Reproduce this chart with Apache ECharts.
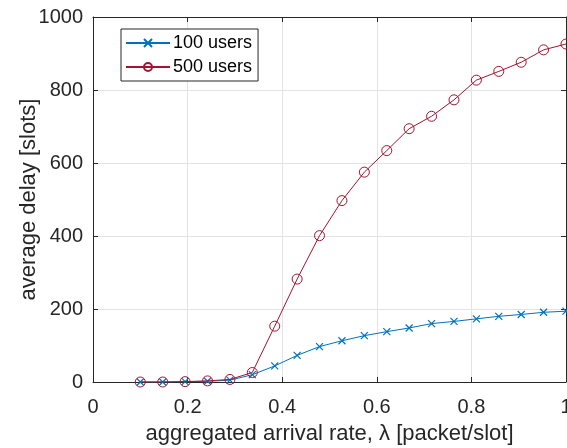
<!DOCTYPE html>
<html>
<head>
<meta charset="utf-8">
<script src="https://cdn.jsdelivr.net/npm/echarts@6/dist/echarts.min.js"></script>
<style>html,body{margin:0;padding:0;background:#fff;}#c{width:567px;height:448px;}</style>
</head>
<body>
<div id="c"></div>
<script>
const lambda = [0.1, 0.1474, 0.1947, 0.2421, 0.2895, 0.3368, 0.3842, 0.4316, 0.4789, 0.5263,
                0.5737, 0.6211, 0.6684, 0.7158, 0.7632, 0.8105, 0.8579, 0.9053, 0.9526, 1.0];
const users100 = [0, 0, 1, 2, 5, 20, 44, 73, 97, 113, 127, 138, 148, 160, 166, 173, 180, 185, 191, 194];
const users500 = [0, 0, 1, 3, 7, 26, 153, 282, 401, 497, 575, 634, 694, 728, 773, 827, 851, 876, 910, 926];
const seriesNames = ['100 users', '500 users'];
const xTicks = [0, 0.2, 0.4, 0.6, 0.8, 1];
const yTicks = [0, 200, 400, 600, 800, 1000];

const FONT = 'Liberation Sans, Arial, sans-serif';
const AX = '#262626';
const pair = (xs, ys) => xs.map((x, i) => [x, ys[i]]);

const chart = echarts.init(document.getElementById('c'), null, {renderer: 'canvas'});
const axisCommon = {
  axisLine: {show: true, onZero: false, lineStyle: {color: AX, width: 1}},
  axisTick: {show: true, inside: true, length: 5, lineStyle: {color: AX}},
};
chart.setOption({
  animation: false,
  backgroundColor: '#fff',
  grid: {left: 93, right: 1, top: 17, bottom: 66, containLabel: false, outerBoundsMode: 'none'},
  legend: {
    orient: 'vertical', left: 121, top: 29,
    data: seriesNames,
    itemWidth: 44, itemHeight: 10, itemGap: 6,
    padding: [5, 6, 5, 4],
    borderColor: AX, borderWidth: 1, backgroundColor: '#fff',
    textStyle: {fontFamily: FONT, fontSize: 18, color: '#000', padding: [0, 0, 0, -2]}
  },
  xAxis: [{
    type: 'value', min: 0, max: 1, interval: 0.2, position: 'bottom',
    ...axisCommon,
    axisLabel: {fontFamily: FONT, fontSize: 20, color: AX, margin: 15,
      formatter: v => xTicks.includes(+v.toFixed(1)) ? String(+v.toFixed(1)) : ''},
    splitLine: {show: true, lineStyle: {color: '#e3e3e3', width: 1}},
    name: 'aggregated arrival rate, λ [packet/slot]', nameLocation: 'middle', nameGap: 41,
    nameMoveOverlap: false,
    nameTextStyle: {fontFamily: FONT, fontSize: 22, color: AX}
  }, {
    type: 'value', min: 0, max: 1, interval: 0.2, position: 'top',
    ...axisCommon, axisLabel: {show: false}, splitLine: {show: false}
  }],
  yAxis: [{
    type: 'value', min: 0, max: 1000, interval: 200, position: 'left',
    ...axisCommon,
    axisLabel: {fontFamily: FONT, fontSize: 20, color: AX, margin: 10,
      formatter: v => yTicks.includes(v) ? String(v) : ''},
    splitLine: {show: true, lineStyle: {color: '#e3e3e3', width: 1}},
    name: 'average delay [slots]', nameLocation: 'middle', nameGap: 53,
    nameMoveOverlap: false,
    nameTextStyle: {fontFamily: FONT, fontSize: 22, color: AX}
  }, {
    type: 'value', min: 0, max: 1000, interval: 200, position: 'right',
    ...axisCommon, axisLabel: {show: false}, splitLine: {show: false}
  }],
  series: [{
    name: seriesNames[0], type: 'line', data: pair(lambda, users100),
    symbol: 'path://M0,0L10,10M10,0L0,10', symbolSize: 7,
    lineStyle: {color: '#0072BD', width: 1},
    itemStyle: {color: 'rgba(0,0,0,0)', borderColor: '#0072BD', borderWidth: 1.2},
    z: 2
  }, {
    name: seriesNames[1], type: 'line', data: pair(lambda, users500),
    symbol: 'circle', symbolSize: 10,
    lineStyle: {color: '#A2142F', width: 1},
    itemStyle: {color: 'rgba(0,0,0,0)', borderColor: '#A2142F', borderWidth: 1},
    z: 3
  }]
});
</script>
</body>
</html>
